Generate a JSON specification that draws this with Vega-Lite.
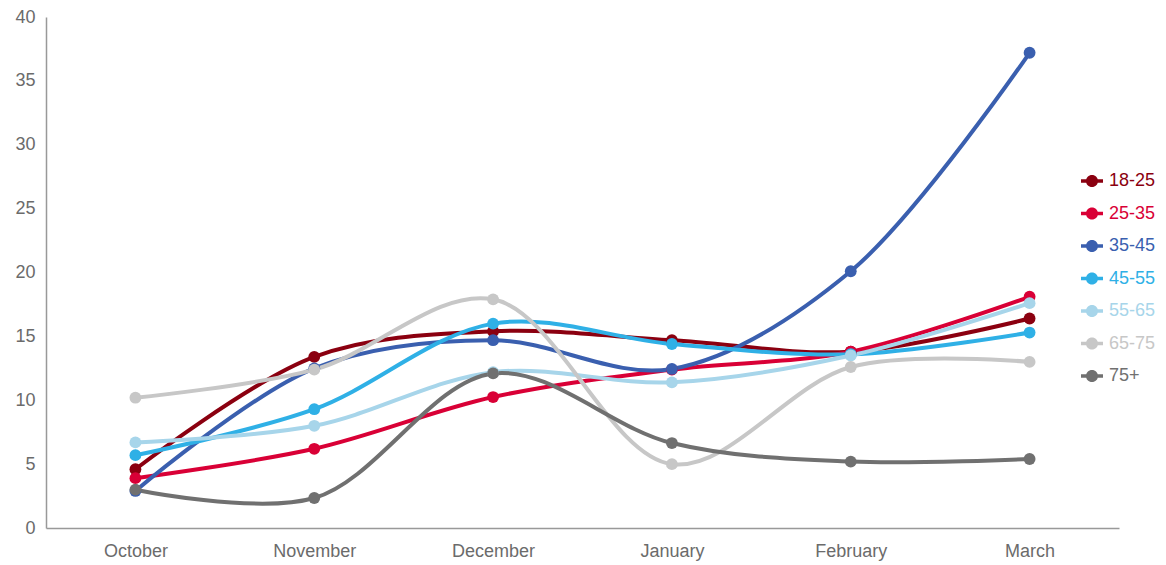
{
  "$schema": "https://vega.github.io/schema/vega-lite/v6.json",
  "autosize": "none",
  "width": 1073,
  "height": 511,
  "padding": {"left": 46, "top": 17, "right": 47, "bottom": 37},
  "background": "white",
  "config": {
    "view": {"stroke": null},
    "font": "Liberation Sans",
    "axis": {"labelFont": "Liberation Sans", "labelColor": "#6b6b6b", "labelFontSize": 18, "domainColor": "#999999", "domainWidth": 1.5, "ticks": false, "grid": false, "title": null}
  },
  "data": {"values": [
    {"month": "October", "group": "18-25", "value": 4.6},
    {"month": "November", "group": "18-25", "value": 13.4},
    {"month": "December", "group": "18-25", "value": 15.4},
    {"month": "January", "group": "18-25", "value": 14.7},
    {"month": "February", "group": "18-25", "value": 13.8},
    {"month": "March", "group": "18-25", "value": 16.4},
    {"month": "October", "group": "25-35", "value": 3.9},
    {"month": "November", "group": "25-35", "value": 6.2},
    {"month": "December", "group": "25-35", "value": 10.25},
    {"month": "January", "group": "25-35", "value": 12.4},
    {"month": "February", "group": "25-35", "value": 13.8},
    {"month": "March", "group": "25-35", "value": 18.1},
    {"month": "October", "group": "35-45", "value": 2.9},
    {"month": "November", "group": "35-45", "value": 12.5},
    {"month": "December", "group": "35-45", "value": 14.7},
    {"month": "January", "group": "35-45", "value": 12.45},
    {"month": "February", "group": "35-45", "value": 20.1},
    {"month": "March", "group": "35-45", "value": 37.2},
    {"month": "October", "group": "45-55", "value": 5.7},
    {"month": "November", "group": "45-55", "value": 9.3},
    {"month": "December", "group": "45-55", "value": 16.0},
    {"month": "January", "group": "45-55", "value": 14.4},
    {"month": "February", "group": "45-55", "value": 13.6},
    {"month": "March", "group": "45-55", "value": 15.3},
    {"month": "October", "group": "55-65", "value": 6.7},
    {"month": "November", "group": "55-65", "value": 8.0},
    {"month": "December", "group": "55-65", "value": 12.2},
    {"month": "January", "group": "55-65", "value": 11.4},
    {"month": "February", "group": "55-65", "value": 13.5},
    {"month": "March", "group": "55-65", "value": 17.6},
    {"month": "October", "group": "65-75", "value": 10.2},
    {"month": "November", "group": "65-75", "value": 12.4},
    {"month": "December", "group": "65-75", "value": 17.9},
    {"month": "January", "group": "65-75", "value": 5.0},
    {"month": "February", "group": "65-75", "value": 12.6},
    {"month": "March", "group": "65-75", "value": 13.0},
    {"month": "October", "group": "75+", "value": 3.0},
    {"month": "November", "group": "75+", "value": 2.35},
    {"month": "December", "group": "75+", "value": 12.1},
    {"month": "January", "group": "75+", "value": 6.65},
    {"month": "February", "group": "75+", "value": 5.2},
    {"month": "March", "group": "75+", "value": 5.4}
  ]},
  "encoding": {
    "x": {"field": "month", "type": "ordinal", "sort": ["October", "November", "December", "January", "February", "March"],
      "scale": {"type": "point", "padding": 0.5},
      "axis": {"labelAngle": 0, "labelPadding": 14}},
    "y": {"field": "value", "type": "quantitative", "scale": {"domain": [0, 40], "nice": false},
      "axis": {"values": [0, 5, 10, 15, 20, 25, 30, 35, 40], "labelPadding": 11}},
    "color": {"field": "group", "type": "nominal",
      "scale": {"domain": ["18-25", "25-35", "35-45", "45-55", "55-65", "65-75", "75+"],
        "range": ["#8B0010", "#D90036", "#3A5FAF", "#2FB0E6", "#A7D5EA", "#C7C7C7", "#707070"]},
      "legend": {"orient": "none", "legendX": 1035, "legendY": 153, "title": null,
         "symbolType": "M-1,-0.17 H1 V0.17 H-1 Z M0.55,0 A0.55,0.55 0 1,1 -0.55,0 A0.55,0.55 0 1,1 0.55,0 Z",
         "symbolSize": 484, "symbolOpacity": 1, "symbolStrokeWidth": 0, "labelFontSize": 18, "labelFont": "Liberation Sans", "rowPadding": 12.5, "labelOffset": 6,
         "encode": {"labels": {"update": {"fill": {"scale": "color", "field": "value"}}},
                    "symbols": {"update": {"fill": {"scale": "color", "field": "value"}, "strokeWidth": {"value": 0}}}}}}
  },
  "layer": [
    {"mark": {"type": "line", "interpolate": "catmull-rom", "strokeWidth": 4}},
    {"mark": {"type": "point", "filled": true, "size": 140, "opacity": 1}}
  ]
}
